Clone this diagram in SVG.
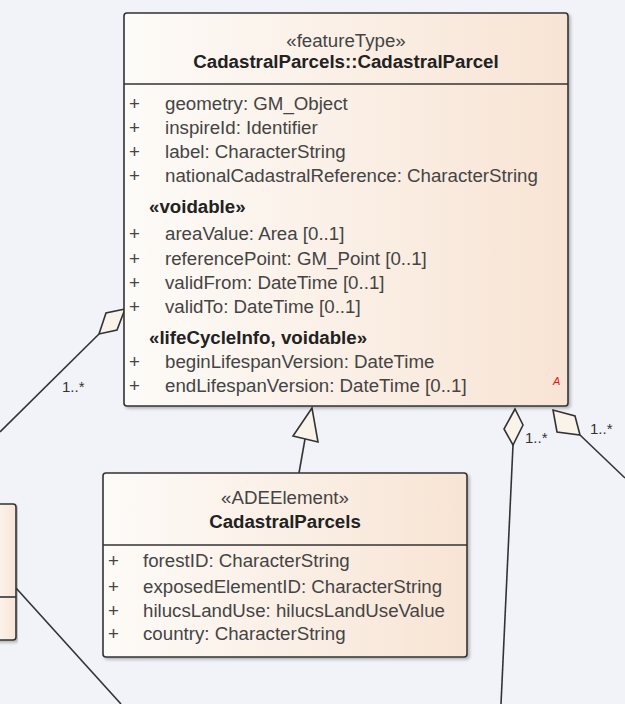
<svg xmlns="http://www.w3.org/2000/svg" width="625" height="704" viewBox="0 0 625 704">
<defs>
<linearGradient id="fill" x1="0" y1="0" x2="1" y2="0">
<stop offset="0" stop-color="#fdfbf8"/>
<stop offset="1" stop-color="#f8e4d4"/>
</linearGradient>
<filter id="sh" x="-5%" y="-5%" width="110%" height="110%">
<feDropShadow dx="2" dy="2" stdDeviation="1.5" flood-color="#000" flood-opacity="0.25"/>
</filter>
<style>
text{font-family:"Liberation Sans",Arial,sans-serif;font-size:18.7px;fill:#444}
.b{font-weight:bold;fill:#222}
.c{text-anchor:middle}
.box{fill:url(#fill);stroke:#333;stroke-width:1.6;filter:url(#sh)}
.sep{stroke:#333;stroke-width:1.6}
.ln{fill:none;stroke:#333;stroke-width:1.6}
.dm{fill:#faf3ea;stroke:#333;stroke-width:1.6;stroke-linejoin:miter}
.ml{font-size:15px;fill:#333}
</style>
</defs>
<rect width="625" height="704" fill="#f1f3f8"/>

<g id="connectors">
<!-- left aggregation -->
<line class="ln" x1="99" y1="334" x2="0" y2="432"/>
<polygon class="dm" points="125,309 106,313 99,334 117,330"/>
<text class="ml" x="62" y="392">1..*</text>
<!-- left box line -->
<line class="ln" x1="16" y1="588" x2="121" y2="704"/>
<!-- generalization -->
<line class="ln" x1="305" y1="439" x2="299" y2="473"/>
<polygon class="dm" points="312,408 293,436 318,442"/>
<!-- right aggregation 1 -->
<line class="ln" x1="513" y1="445" x2="501" y2="704"/>
<polygon class="dm" points="515,409 504,429 513,445 523,425"/>
<text class="ml" x="525" y="443">1..*</text>
<!-- right aggregation 2 -->
<line class="ln" x1="580" y1="435" x2="625" y2="478"/>
<polygon class="dm" points="553,410 557,432 580,435 575,416"/>
<text class="ml" x="590" y="434">1..*</text>
</g>

<g id="leftPartial">
<rect class="box" x="-10" y="504" width="26" height="136" rx="3"/>
<line class="sep" x1="0" y1="597" x2="16" y2="597"/>
</g>

<g id="CadastralParcel">
<rect class="box" x="124" y="13" width="444" height="393" rx="3"/>
<line class="sep" x1="124" y1="84" x2="568" y2="84"/>
<text class="c" x="346" y="47">«featureType»</text>
<text class="c b" x="346" y="68">CadastralParcels::CadastralParcel</text>
<text x="129" y="110">+</text><text x="165" y="110">geometry: GM_Object</text>
<text x="129" y="134">+</text><text x="165" y="134">inspireId: Identifier</text>
<text x="129" y="158">+</text><text x="165" y="158">label: CharacterString</text>
<text x="129" y="182">+</text><text x="165" y="182">nationalCadastralReference: CharacterString</text>
<text class="b" x="149" y="213">«voidable»</text>
<text x="129" y="240">+</text><text x="165" y="240">areaValue: Area [0..1]</text>
<text x="129" y="265">+</text><text x="165" y="265">referencePoint: GM_Point [0..1]</text>
<text x="129" y="289">+</text><text x="165" y="289">validFrom: DateTime [0..1]</text>
<text x="129" y="313">+</text><text x="165" y="313">validTo: DateTime [0..1]</text>
<text class="b" x="149" y="344">«lifeCycleInfo, voidable»</text>
<text x="129" y="368">+</text><text x="165" y="368">beginLifespanVersion: DateTime</text>
<text x="129" y="392">+</text><text x="165" y="392">endLifespanVersion: DateTime [0..1]</text>
<text x="553" y="385" style="font-size:11px;font-style:italic;fill:#e02020">A</text>
</g>

<g id="ADECadastralParcels">
<rect class="box" x="103" y="473" width="364" height="184" rx="3"/>
<line class="sep" x1="103" y1="545" x2="467" y2="545"/>
<text class="c" x="285" y="504">«ADEElement»</text>
<text class="c b" x="285" y="528">CadastralParcels</text>
<text x="108" y="567">+</text><text x="143" y="567">forestID: CharacterString</text>
<text x="108" y="593">+</text><text x="143" y="593">exposedElementID: CharacterString</text>
<text x="108" y="617">+</text><text x="143" y="617">hilucsLandUse: hilucsLandUseValue</text>
<text x="108" y="640">+</text><text x="143" y="640">country: CharacterString</text>
</g>
</svg>
